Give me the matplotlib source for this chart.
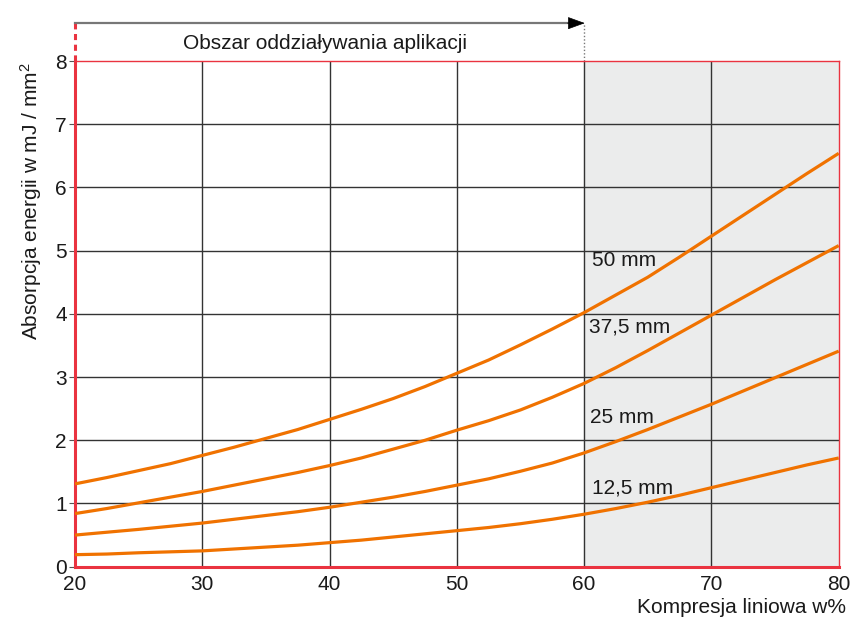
import numpy as np
import matplotlib
matplotlib.use('Agg')
import matplotlib.pyplot as plt

plt.rcParams['font.family'] = ['Liberation Sans', 'DejaVu Sans']
plt.rcParams['mathtext.fontset'] = 'custom'
plt.rcParams['mathtext.rm'] = 'Liberation Sans'
plt.rcParams['mathtext.it'] = 'Liberation Sans'

# data
compression = [20, 22.5, 25, 27.5, 30, 32.5, 35, 37.5, 40, 42.5, 45, 47.5, 50,
               52.5, 55, 57.5, 60, 62.5, 65, 67.5, 70, 72.5, 75, 77.5, 80]
energy_50 = [1.31, 1.41, 1.52, 1.63, 1.76, 1.89, 2.03, 2.17, 2.33, 2.49, 2.66, 2.85, 3.06,
             3.27, 3.51, 3.76, 4.02, 4.30, 4.58, 4.90, 5.23, 5.56, 5.89, 6.22, 6.54]
energy_375 = [0.84, 0.92, 1.01, 1.10, 1.19, 1.29, 1.39, 1.49, 1.60, 1.72, 1.86, 2.00, 2.16,
              2.31, 2.48, 2.68, 2.90, 3.15, 3.42, 3.70, 3.98, 4.26, 4.54, 4.81, 5.08]
energy_25 = [0.50, 0.545, 0.59, 0.64, 0.69, 0.75, 0.81, 0.87, 0.94, 1.02, 1.10, 1.19, 1.29,
             1.39, 1.51, 1.64, 1.80, 1.98, 2.17, 2.37, 2.57, 2.78, 2.99, 3.20, 3.41]
energy_125 = [0.19, 0.20, 0.22, 0.235, 0.25, 0.28, 0.31, 0.34, 0.38, 0.42, 0.47, 0.52, 0.57,
              0.62, 0.68, 0.75, 0.83, 0.92, 1.02, 1.13, 1.25, 1.37, 1.49, 1.61, 1.72]

series = [energy_50, energy_375, energy_25, energy_125]
labels = ['50 mm', '37,5 mm', '25 mm', '12,5 mm']
label_pos = [(60.6, 4.84), (60.4, 3.79), (60.5, 2.36), (60.6, 1.25)]

xticks = [20, 30, 40, 50, 60, 70, 80]
yticks = [0, 1, 2, 3, 4, 5, 6, 7, 8]
app_limit = 60

orange = '#f07200'
red = '#ea3340'
txt = '#1a1a1a'

fig = plt.figure(figsize=(8.52, 6.23), dpi=100)
ax = fig.add_axes([0.088, 0.0904, 0.8964, 0.8116])

ax.axvspan(app_limit, 80, color='#ebecec', zorder=0)
for x in xticks[1:-1]:
    ax.axvline(x, color='#333333', lw=1.0, zorder=1)
for y in yticks[1:-1]:
    ax.axhline(y, color='#333333', lw=1.0, zorder=1)

for vals in series:
    ax.plot(compression, vals, color=orange, lw=2.3, solid_capstyle='butt', zorder=3)

for text, (lx, ly) in zip(labels, label_pos):
    ax.text(lx, ly, text, fontsize=15, color=txt, ha='left', va='center', zorder=4)

ax.set_xlim(20, 80)
ax.set_ylim(0, 8)
ax.set_xticks(xticks)
ax.set_yticks(yticks)
ax.tick_params(axis='x', length=0, pad=6, labelsize=15, colors=txt)
ax.tick_params(axis='y', length=4, width=0.8, color='#555555', pad=2, labelsize=15, labelcolor=txt)

for side in ['top', 'right']:
    ax.spines[side].set_color(red)
    ax.spines[side].set_linewidth(1.0)
for side in ['left', 'bottom']:
    ax.spines[side].set_color(red)
    ax.spines[side].set_linewidth(2.2)

ax.set_xlabel('Kompresja liniowa w%', fontsize=15, color=txt)
ax.xaxis.set_label_coords(1.01, -0.062)
ax.xaxis.label.set_ha('right')
ax.set_ylabel(r'Absorpcja energii w mJ / mm$^{2}$', fontsize=15, color=txt)
ax.yaxis.set_label_coords(-0.040, 0.723)

# application range arrow above the plot
ax.plot([20, 20], [8, 8.6], color=red, lw=2.2, ls=(0, (2, 1.5)), clip_on=False)
ax.plot([20, app_limit - 1.2], [8.6, 8.6], color='#777777', lw=1.6, clip_on=False)
ax.annotate('', xy=(app_limit + 0.05, 8.6), xytext=(app_limit - 1.3, 8.6),
            arrowprops=dict(arrowstyle='-|>,head_length=1.1,head_width=0.4',
                            color='black', lw=0.5, shrinkA=0, shrinkB=0),
            annotation_clip=False)
ax.plot([app_limit, app_limit], [8, 8.6], color='#777777', lw=1.0, ls=(0, (1, 1.5)), clip_on=False)
ax.text(39.65, 8.28, 'Obszar oddziaływania aplikacji', fontsize=15, color=txt,
        ha='center', va='center')

fig.savefig('out.png', dpi=100)
